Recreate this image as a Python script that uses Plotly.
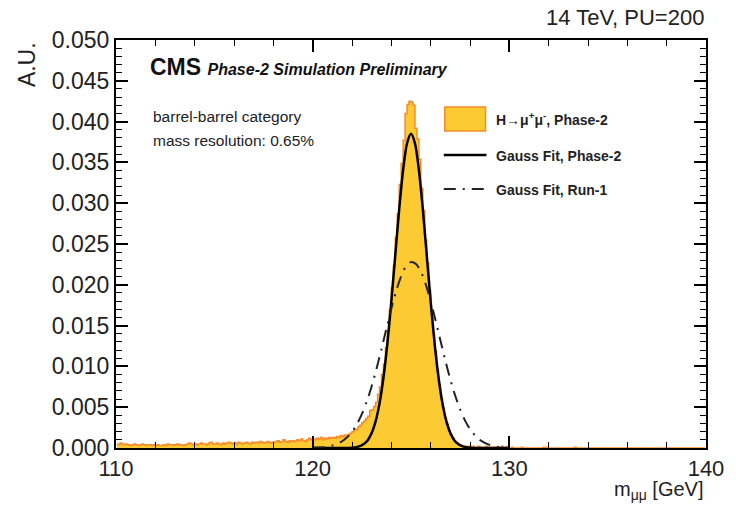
import numpy as np
import plotly.graph_objects as go

# ---------------- data ----------------
# histogram: 0.1 GeV bins from 110 to 140 (bin centres)
bin_lo, bin_hi, bin_w = 110.0, 140.0, 0.1
hist_vals = [
    # 110.0 - 111.0
    0.0005, 0.0004, 0.0006, 0.0005, 0.0004, 0.0005, 0.0004, 0.0003, 0.0004, 0.0005,
    0.0004, 0.0003, 0.0004, 0.0005, 0.0004, 0.0003, 0.0004, 0.0004, 0.0003, 0.0004,
    0.0003, 0.0004, 0.0003, 0.0003, 0.0004, 0.0003, 0.0005, 0.0004, 0.0004, 0.0003,
    0.0004, 0.0005, 0.0004, 0.0004, 0.0003, 0.0004, 0.0005, 0.0006, 0.0005, 0.0004,
    # 114.0
    0.0005, 0.0004, 0.0005, 0.0006, 0.0005, 0.0005, 0.0004, 0.0006, 0.0007, 0.0005,
    0.0005, 0.0006, 0.0005, 0.0004, 0.0006, 0.0005, 0.0006, 0.0007, 0.0006, 0.0005,
    0.0006, 0.0005, 0.0007, 0.0006, 0.0005, 0.0006, 0.0007, 0.0006, 0.0005, 0.0007,
    0.0006, 0.0007, 0.0006, 0.0008, 0.0007, 0.0006, 0.0007, 0.0008, 0.0006, 0.0007,
    # 118.0
    0.0007, 0.0008, 0.0009, 0.0007, 0.0008, 0.0010, 0.0008, 0.0007, 0.0009, 0.0008,
    0.0009, 0.0008, 0.0010, 0.0009, 0.0011, 0.0009, 0.0008, 0.0010, 0.0012, 0.0010,
    # 120.0
    0.0011, 0.0010, 0.0012, 0.0011, 0.0013, 0.0010, 0.0012, 0.0011, 0.0013, 0.0012,
    0.0013, 0.0012, 0.0014, 0.0013, 0.0015, 0.0014, 0.0016, 0.0015, 0.0017, 0.0018,
    # 122.0
    0.0020, 0.0022, 0.0023, 0.0026, 0.0028, 0.0031, 0.0033, 0.0036, 0.0039, 0.0046,
    0.0047, 0.0051, 0.0056, 0.0066, 0.0075, 0.0090, 0.0103, 0.0123, 0.0143, 0.0169,
    # 124.0
    0.0196, 0.0223, 0.0258, 0.0287, 0.0323, 0.0349, 0.0377, 0.0410, 0.0421, 0.0425,
    0.0424, 0.0420, 0.0392, 0.0379, 0.0354, 0.0318, 0.0291, 0.0255, 0.0227, 0.0193,
    # 126.0
    0.0167, 0.0139, 0.0118, 0.0095, 0.0078, 0.0061, 0.0049, 0.0037, 0.0029, 0.0021,
    0.0016, 0.0012, 0.0008, 0.0006, 0.0004, 0.0003, 0.0002, 0.0002, 0.0001, 0.0002,
    # 128.0
    0.0001, 0.0002, 0.0001, 0.0001, 0.0002, 0.0001, 0.0000, 0.0001, 0.0002, 0.0001,
    0.0001, 0.0000, 0.0001, 0.0001, 0.0000, 0.0001, 0.0002, 0.0000, 0.0001, 0.0000,
    # 130.0
    0.0000, 0.0001, 0.0000, 0.0000, 0.0000, 0.0000, 0.0001, 0.0000, 0.0000, 0.0000,
    0.0000, 0.0000, 0.0000, 0.0000, 0.0000, 0.0000, 0.0000, 0.0001, 0.0001, 0.0000,
    0.0000, 0.0000, 0.0000, 0.0000, 0.0000, 0.0000, 0.0000, 0.0000, 0.0000, 0.0000,
    0.0000, 0.0000, 0.0000, 0.0001, 0.0000, 0.0000, 0.0000, 0.0000, 0.0000, 0.0000,
    0.0000, 0.0000, 0.0000, 0.0000, 0.0000, 0.0000, 0.0000, 0.0000, 0.0000, 0.0000,
    0.0000, 0.0000, 0.0000, 0.0000, 0.0000, 0.0000, 0.0000, 0.0000, 0.0000, 0.0000,
    0.0000, 0.0000, 0.0000, 0.0000, 0.0000, 0.0000, 0.0000, 0.0000, 0.0000, 0.0000,
    0.0000, 0.0000, 0.0000, 0.0000, 0.0000, 0.0000, 0.0000, 0.0000, 0.0000, 0.0000,
    0.0000, 0.0000, 0.0000, 0.0000, 0.0000, 0.0000, 0.0000, 0.0000, 0.0000, 0.0000,
    0.0000, 0.0000, 0.0000, 0.0000, 0.0000, 0.0000, 0.0000, 0.0000, 0.0000, 0.0000,
]

# Gauss fit, Phase-2 : sampled every 0.2 GeV from 120 to 130
fit_p2_x = [round(120.0 + 0.2 * i, 2) for i in range(51)]
fit_p2_y = [
    0, 0, 0, 0, 0, 0, 0, 0, 0, 0,
    0.00004, 0.0001, 0.00022, 0.00048, 0.00096, 0.00183, 0.00326, 0.00547, 0.00864, 0.01285,
    0.01797, 0.02364, 0.02927, 0.03408, 0.03735, 0.0385, 0.03735, 0.03408, 0.02927, 0.02364,
    0.01797, 0.01285, 0.00864, 0.00547, 0.00326, 0.00183, 0.00096, 0.00048, 0.00022, 0.0001,
    0.00004,
    0, 0, 0, 0, 0, 0, 0, 0, 0, 0,
]

# Gauss fit, Run-1 : sampled every 0.25 GeV from 120 to 130
fit_r1_x = [round(120.0 + 0.25 * i, 2) for i in range(41)]
fit_r1_y = [
    0.00003, 0.00005, 0.0001, 0.00018, 0.00031, 0.00051, 0.00083, 0.00131, 0.00198, 0.00291,
    0.00414, 0.00569, 0.00757, 0.00974, 0.01213, 0.01463, 0.01707, 0.01927, 0.02106, 0.02227,
    0.02278, 0.02256, 0.02162, 0.02005, 0.01799, 0.01562, 0.01313, 0.01068, 0.0084, 0.0064,
    0.00472, 0.00336, 0.00232, 0.00155, 0.001, 0.00063, 0.00038, 0.00022, 0.00013, 0.00007,
    0.00004,
]

x_tick_vals = [110, 120, 130, 140]
y_tick_vals = [0.000, 0.005, 0.010, 0.015, 0.020, 0.025, 0.030, 0.035, 0.040, 0.045, 0.050]

# ---------------- style ----------------
FONT = "Liberation Sans, Arial, Helvetica, sans-serif"
YELLOW = "#FCCA32"
ORANGE = "#F58C2A"
L, R, T, B = 116, 26, 40, 58
W, H = 736, 506
PW, PH = W - L - R, H - T - B


def px(xp):
    return (xp - L) / PW


def py(yp):
    return (H - B - yp) / PH


bin_centres = [round(bin_lo + bin_w * (i + 0.5), 3) for i in range(len(hist_vals))]

fig = go.Figure()
fig.add_trace(go.Scatter(
    x=bin_centres, y=hist_vals, mode="lines", line_shape="hvh",
    line=dict(color=ORANGE, width=1.5), fill="tozeroy", fillcolor=YELLOW,
    hoverinfo="skip", name="H→μ+μ-, Phase-2"))
fig.add_trace(go.Scatter(
    x=fit_p2_x, y=fit_p2_y, mode="lines",
    line=dict(color="black", width=2.5, shape="spline", smoothing=0.8),
    name="Gauss Fit, Phase-2"))
fig.add_trace(go.Scatter(
    x=fit_r1_x, y=fit_r1_y, mode="lines",
    line=dict(color="#222222", width=2, dash="12px,7px,2px,7px", shape="spline", smoothing=0.8),
    name="Gauss Fit, Run-1"))

axis_common = dict(
    showline=True, linecolor="black", linewidth=2, mirror="ticks",
    ticks="inside", ticklen=12, tickwidth=1.5, tickcolor="black",
    showgrid=False, zeroline=False,
)
fig.update_xaxes(range=[bin_lo, bin_hi], tickvals=x_tick_vals, ticktext=[str(v) for v in x_tick_vals],
                 minor=dict(dtick=2, ticklen=6, tickwidth=1.2, tickcolor="black", ticks="inside"),
                 tickfont=dict(family=FONT, size=22, color="#222222"),
                 **axis_common)
fig.update_yaxes(range=[0, 0.05], tickvals=y_tick_vals, ticktext=[f"{v:.3f}" for v in y_tick_vals],
                 minor=dict(dtick=0.001, ticklen=6, tickwidth=1.2, tickcolor="black", ticks="inside"),
                 tickfont=dict(family=FONT, size=23, color="#222222"),
                 **axis_common)

ann = []
ann.append(dict(text="A.U.", textangle=-90, x=px(26), y=1.0, xanchor="center", yanchor="top",
                font=dict(family=FONT, size=23, color="#222222")))
ann.append(dict(text="m<sub>μμ</sub> [GeV]", x=1.0, y=py(505), xanchor="right", yanchor="bottom",
                font=dict(family=FONT, size=20, color="#222222")))
ann.append(dict(text="14 TeV, PU=200", x=1.0, y=py(18), xanchor="right", yanchor="middle",
                font=dict(family=FONT, size=22, color="#222222")))
ann.append(dict(text="<b>CMS</b> <span style='font-size:16px'><b><i>Phase-2 Simulation Preliminary</i></b></span>",
                x=px(148), y=py(67), xanchor="left", yanchor="middle",
                font=dict(family=FONT, size=23, color="#111111")))
ann.append(dict(text="barrel-barrel category", x=px(151), y=py(116), xanchor="left", yanchor="middle",
                font=dict(family=FONT, size=15.5, color="#222222")))
ann.append(dict(text="mass resolution: 0.65%", x=px(151), y=py(140), xanchor="left", yanchor="middle",
                font=dict(family=FONT, size=15.5, color="#222222")))
legend_font = dict(family=FONT, size=14, color="#222222")
ann.append(dict(text="<b>H→μ<sup>+</sup>μ<sup>-</sup>, Phase-2</b>", x=px(497), y=py(119),
                xanchor="left", yanchor="middle", font=legend_font))
ann.append(dict(text="<b>Gauss Fit, Phase-2</b>", x=px(497), y=py(156),
                xanchor="left", yanchor="middle", font=legend_font))
ann.append(dict(text="<b>Gauss Fit, Run-1</b>", x=px(497), y=py(190),
                xanchor="left", yanchor="middle", font=legend_font))
for a in ann:
    a.update(xref="paper", yref="paper", showarrow=False)

shapes = [
    dict(type="rect", xref="paper", yref="paper", x0=px(447), x1=px(488), y0=py(131), y1=py(107),
         fillcolor=YELLOW, line=dict(color=ORANGE, width=1.5)),
    dict(type="line", xref="paper", yref="paper", x0=px(446), x1=px(489), y0=py(155), y1=py(155),
         line=dict(color="black", width=2.5)),
    dict(type="line", xref="paper", yref="paper", x0=px(446), x1=px(489), y0=py(189), y1=py(189),
         line=dict(color="#222222", width=2, dash="12px,7px,2px,7px")),
]

fig.update_layout(
    width=W, height=H, margin=dict(l=L, r=R, t=T, b=B),
    paper_bgcolor="white", plot_bgcolor="white", showlegend=False,
    annotations=ann, shapes=shapes,
    font=dict(family=FONT, color="#222222"),
)

fig.write_html("out.html")
